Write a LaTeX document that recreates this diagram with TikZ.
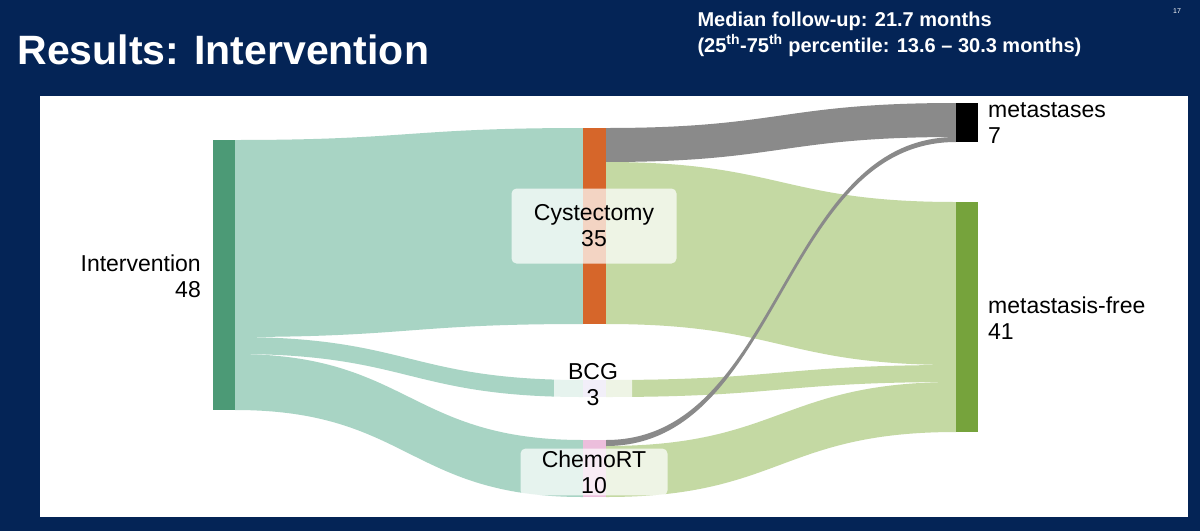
\documentclass[tikz,border=0pt]{standalone}
\usepackage{fontspec}
\setmainfont{Liberation Sans}
\usetikzlibrary{positioning}
\definecolor{navy}{RGB}{4,36,86}
\definecolor{tealflow}{RGB}{168,212,196}
\definecolor{greenflow}{RGB}{196,217,163}
\definecolor{grayflow}{RGB}{138,138,138}
\definecolor{interbar}{RGB}{76,154,118}
\definecolor{cystbar}{RGB}{214,102,42}
\definecolor{freebar}{RGB}{118,163,60}
\definecolor{bcgbar}{RGB}{210,200,235}
\definecolor{chemobar}{RGB}{236,190,220}
% flow band: x1, top1, bottom1, x2, top2, bottom2, colour
\newcommand{\sankeyflow}[7]{%
  \fill[#7] (#1,#2) .. controls ({(#1+#4)/2},#2) and ({(#1+#4)/2},#5) .. (#4,#5)
    -- (#4,#6) .. controls ({(#1+#4)/2},#6) and ({(#1+#4)/2},#3) .. (#1,#3) -- cycle;}
\begin{document}
\begin{tikzpicture}[x=1pt,y=-1pt,
    lbl/.style={font=\fontsize{23}{26}\selectfont,inner sep=2pt},
    lblbox/.style={lbl,fill=white,fill opacity=0.72,text opacity=1,rounded corners=5pt,align=center},
  ]
  \useasboundingbox (0,0) rectangle (1200,531);
  \fill[navy] (0,0) rectangle (1200,531);
  \fill[white] (40,96) rectangle (1188,517);
  \node[text=white,font=\bfseries\fontsize{41}{46}\selectfont,anchor=west] (title) at (14,50) {Results: Intervention};
  \node[text=white,font=\bfseries\fontsize{20}{26}\selectfont,align=left,anchor=north west] (followup) at (694,8)
    {Median follow-up: 21.7 months\\(25\textsuperscript{th}-75\textsuperscript{th} percentile: 13.6 -- 30.3 months)};
  \node[text=white,font=\fontsize{7}{8}\selectfont] (page) at (1177,11) {17};
%
  \sankeyflow{235}{140}{337}{583}{128}{324}{tealflow}
  \sankeyflow{235}{337}{354}{583}{380}{397}{tealflow}
  \sankeyflow{235}{354}{410}{583}{440}{497}{tealflow}
  \sankeyflow{606}{128}{162}{956}{103}{137}{grayflow}
  \sankeyflow{606}{162}{324}{956}{202}{365}{greenflow}
  \sankeyflow{606}{380}{397}{956}{365}{382}{greenflow}
  \sankeyflow{606}{446}{497}{956}{382}{432}{greenflow}
  \sankeyflow{606}{440}{446}{956}{137}{142}{grayflow}
%
  \fill[interbar] (213,140) rectangle (235,410);
  \fill[cystbar] (583,128) rectangle (606,324);
  \fill[bcgbar] (583,380) rectangle (606,397);
  \fill[chemobar] (583,440) rectangle (606,497);
  \fill[black] (956,103) rectangle (978,142);
  \fill[freebar] (956,202) rectangle (978,432);
%
  \node[lbl,align=right,anchor=east] (intervention) at (203,276) {Intervention\\48};
  \node[lblbox,minimum width=165pt,minimum height=75pt] (cystectomy) at (594,226) {Cystectomy\\35};
  \node[lblbox,minimum width=78pt] (bcg) at (593,385) {BCG\\3};
  \node[lblbox,minimum width=147pt] (chemort) at (594,472) {ChemoRT\\10};
  \node[lbl,align=left,anchor=west] (metastases) at (986,123) {metastases\\7};
  \node[lbl,align=left,anchor=west] (free) at (986,318) {metastasis-free\\41};
\end{tikzpicture}
\end{document}
